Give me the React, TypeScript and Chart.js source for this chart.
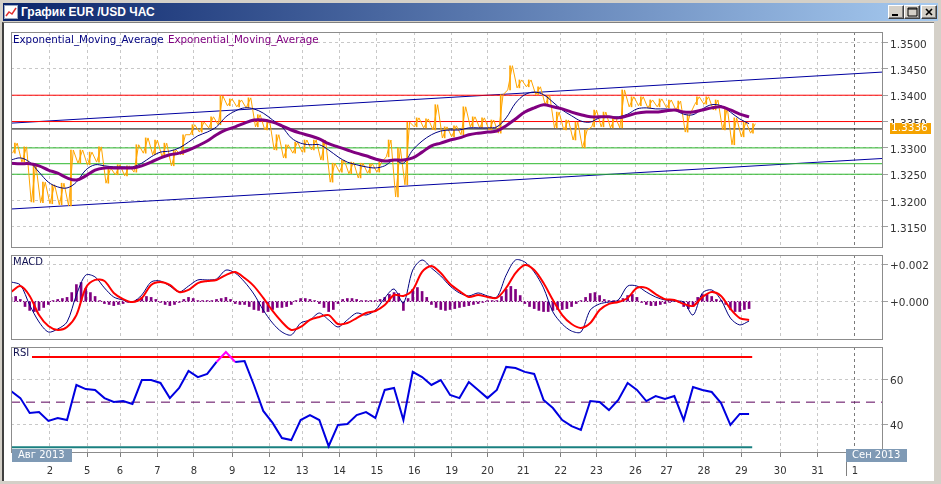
import React, { useEffect, useRef } from 'react';
import { Chart, registerables } from 'chart.js';

Chart.register(...registerables);
Chart.defaults.font.family = '"DejaVu Sans", sans-serif';
Chart.defaults.font.size = 10;

// ---------------- data ----------------
const STEP = 6; // hourly bars per sample of price / lines / RSI
const HIST_STEP = 3; // hourly bars per histogram sample
const X_MAX = 560; // hourly bars visible on the chart
const LAST_BAR = 476; // last bar with data

const dayTickBars = [25, 49, 70, 94, 117.5, 142, 166, 187, 211, 235, 259, 283, 306, 329, 353, 376, 401, 421, 445, 469, 494, 518, 542];
const dayTickLabels = ['2', '5', '6', '7', '8', '9', '12', '13', '14', '15', '16', '19', '20', '21', '22', '23', '26', '27', '28', '29', '30', '31', '1'];
const monthStartBar = 542;
const monthLabels = ['Авг 2013', 'Сен 2013'];

const titleText = 'График EUR /USD ЧАС';
const emaLabels = ['Exponential_Moving_Average', 'Exponential_Moving_Average'];

const priceTicks = [1.315, 1.32, 1.325, 1.33, 1.335, 1.34, 1.345, 1.35];
const macdTicks = [0, 0.002];
const rsiTicks = [40, 60];

const priceHigh = [
  1.3309, 1.3302, 1.3268, 1.3235, 1.3230, 1.3233, 1.3296, 1.3296, 1.3292, 1.3302,
  1.3262, 1.3268, 1.3266, 1.3306, 1.3319, 1.3315, 1.3309, 1.3296, 1.3325, 1.3344,
  1.3349, 1.3359, 1.3399, 1.3393, 1.3391, 1.3395, 1.3363, 1.3353, 1.3325, 1.3306,
  1.3311, 1.3315, 1.3315, 1.3315, 1.3271, 1.3277, 1.3273, 1.3271, 1.3270, 1.3273,
  1.3315, 1.3300, 1.3349, 1.3357, 1.3355, 1.3382, 1.3340, 1.3342, 1.3378, 1.3359,
  1.3357, 1.3353, 1.3401, 1.3456, 1.3429, 1.3429, 1.3416, 1.3399, 1.3368, 1.3353,
  1.3349, 1.3334, 1.3372, 1.3368, 1.3359, 1.3410, 1.3397, 1.3397, 1.3391, 1.3393,
  1.3391, 1.3389, 1.3363, 1.3397, 1.3397, 1.3391, 1.3376, 1.3357, 1.3349, 1.3346,
];
const priceLow = [
  1.3290, 1.3273, 1.3197, 1.3196, 1.3194, 1.3192, 1.3190, 1.3271, 1.3268, 1.3273,
  1.3233, 1.3249, 1.3247, 1.3254, 1.3290, 1.3287, 1.3283, 1.3266, 1.3287, 1.3325,
  1.3330, 1.3338, 1.3344, 1.3380, 1.3378, 1.3376, 1.3340, 1.3334, 1.3296, 1.3281,
  1.3290, 1.3292, 1.3296, 1.3277, 1.3235, 1.3254, 1.3251, 1.3243, 1.3252, 1.3254,
  1.3283, 1.3207, 1.3230, 1.3340, 1.3338, 1.3334, 1.3319, 1.3321, 1.3325, 1.3340,
  1.3338, 1.3334, 1.3328, 1.3410, 1.3414, 1.3416, 1.3401, 1.3383, 1.3338, 1.3334,
  1.3315, 1.3300, 1.3340, 1.3340, 1.3338, 1.3338, 1.3378, 1.3380, 1.3376, 1.3378,
  1.3376, 1.3372, 1.3330, 1.3382, 1.3383, 1.3372, 1.3334, 1.3306, 1.3321, 1.3328,
];
const emaFast = [
  1.3277, 1.3281, 1.3273, 1.3254, 1.3235, 1.3226, 1.3224, 1.3235, 1.3258, 1.3268,
  1.3266, 1.3264, 1.3264, 1.3264, 1.3271, 1.3283, 1.3292, 1.3294, 1.3300, 1.3311,
  1.3323, 1.3330, 1.3340, 1.3359, 1.3370, 1.3376, 1.3374, 1.3366, 1.3353, 1.3340,
  1.3319, 1.3309, 1.3306, 1.3306, 1.3296, 1.3283, 1.3273, 1.3268, 1.3264, 1.3262,
  1.3266, 1.3277, 1.3271, 1.3296, 1.3313, 1.3325, 1.3332, 1.3334, 1.3334, 1.3338,
  1.3338, 1.3338, 1.3340, 1.3357, 1.3385, 1.3401, 1.3406, 1.3401, 1.3387, 1.3372,
  1.3361, 1.3351, 1.3349, 1.3357, 1.3359, 1.3359, 1.3364, 1.3374, 1.3376, 1.3374,
  1.3374, 1.3372, 1.3364, 1.3363, 1.3374, 1.3382, 1.3380, 1.3368, 1.3355, 1.3346,
];
const emaSlow = [
  1.3271, 1.3270, 1.3270, 1.3266, 1.3258, 1.3252, 1.3243, 1.3239, 1.3247, 1.3258,
  1.3262, 1.3262, 1.3262, 1.3262, 1.3266, 1.3273, 1.3281, 1.3287, 1.3290, 1.3296,
  1.3304, 1.3313, 1.3325, 1.3334, 1.3340, 1.3347, 1.3353, 1.3353, 1.3349, 1.3342,
  1.3334, 1.3328, 1.3323, 1.3317, 1.3308, 1.3302, 1.3296, 1.3290, 1.3285, 1.3279,
  1.3275, 1.3277, 1.3277, 1.3281, 1.3292, 1.3304, 1.3309, 1.3315, 1.3319, 1.3325,
  1.3328, 1.3330, 1.3332, 1.3342, 1.3355, 1.3368, 1.3376, 1.3382, 1.3378, 1.3374,
  1.3368, 1.3363, 1.3359, 1.3359, 1.3359, 1.3357, 1.3361, 1.3366, 1.3368, 1.3368,
  1.3370, 1.3372, 1.3368, 1.3368, 1.3372, 1.3376, 1.3378, 1.3372, 1.3364, 1.3359,
];
const trendUpper = [1.3347, 1.3444]; // at bar 0 and bar X_MAX
const trendLower = [1.3184, 1.3280];
const resistanceLevels = [1.34, 1.335];
const supportLevels = [1.33, 1.327, 1.325];
const currentPrice = 1.3336;

const macdMain = [
  0.00105, 0.00089, -0.00019, -0.0011, -0.00164, -0.00148, -0.0011, 0.00035, 0.00142, 0.00132,
  0.00073, 0.00024, 0.00008, -0.00003, 0.00035, 0.00105, 0.0011, 0.00083, 0.00051, 0.00083,
  0.00116, 0.00116, 0.00121, 0.00169, 0.00153, 0.00105, 0.0004, -0.00046, -0.00116, -0.00164,
  -0.0018, -0.00116, -0.00099, -0.00062, -0.00099, -0.00137, -0.00099, -0.00062, -0.00073, -0.00046,
  0.00019, 0.00067, -0.00008, 0.00169, 0.00223, 0.0018, 0.00137, 0.00083, 0.00046, 0.0003,
  0.00046, 0.0003, 0.00024, 0.00142, 0.00223, 0.00212, 0.00159, 0.00073, -0.00056, -0.00121,
  -0.00159, -0.00164, -0.00046, -0.00013, -0.00003, 0.00008, 0.00083, 0.00083, 0.00051, 0.00024,
  0.00008, 0.00003, -0.00003, -0.00073, 0.00046, 0.00062, 0.00008, -0.00089, -0.00126, -0.00105,
];
const macdSignal = [
  0.00051, 0.00083, 0.0003, -0.00073, -0.00132, -0.00153, -0.00137, -0.00073, 0.00073, 0.00116,
  0.0011, 0.00046, 0.00013, -0.00003, 0.00019, 0.00089, 0.00105, 0.00089, 0.00051, 0.00062,
  0.00099, 0.0011, 0.00116, 0.00142, 0.00159, 0.00126, 0.00083, 0.00019, -0.00051, -0.0011,
  -0.00153, -0.00137, -0.00099, -0.00083, -0.00073, -0.00121, -0.00116, -0.00089, -0.00062, -0.00051,
  -0.00019, 0.00035, 0.0003, 0.00062, 0.00159, 0.00191, 0.00153, 0.00094, 0.00056, 0.00024,
  0.00035, 0.00024, 0.00019, 0.00073, 0.00153, 0.00196, 0.00169, 0.00099, 0.00008, -0.00073,
  -0.00121, -0.00142, -0.00116, -0.00046, -0.00013, -0.00003, 0.00019, 0.00073, 0.00073, 0.0004,
  0.00013, 0.00008, -0.00013, -0.00024, 0.00024, 0.00051, 0.0003, -0.0004, -0.00089, -0.00099,
];
const macdHist = [
  0.00022, 0.00027, 0.00011, -0.00027, -0.00048, -0.00054, -0.00048, -0.00032, -0.00016, 0.00005,
  0.00011, 0.00016, 0.00022, 0.00048, 0.00091, 0.00102, 0.0007, 0.00048, 0.00027, 0.00005,
  -0.00011, -0.00016, -0.00022, -0.00016, -0.00011, -0.00005, 0, 0.00011, 0.00022, 0.00027,
  0.00022, 0.00011, -0.00005, -0.00016, -0.00022, -0.00016, -0.00005, 0.00011, 0.00022, 0.00016,
  0.00005, 0.00005, 0.00005, 0.00005, 0.00011, 0.00016, 0.00022, 0.00011, -0.00011, -0.00016,
  -0.00016, -0.00027, -0.00043, -0.00048, -0.00059, -0.00054, -0.00043, -0.00032, -0.00032, -0.00027,
  -0.00016, 0.00005, 0.00016, 0.00016, 0.00011, 0.00005, -0.00011, -0.00032, -0.00054, -0.00043,
  -0.00011, 0.00011, 0.00016, 0.00016, 0.00011, 0.00005, 0.00005, 0.00005, 0.00005, 0.00011,
  0.00022, 0.00038, 0.00048, 0.00043, -0.00048, 0.00016, 0.00065, 0.00075, 0.00054, 0.00022,
  -0.00016, -0.00032, -0.00043, -0.00048, -0.00043, -0.00038, -0.00032, -0.00027, -0.00022, -0.00016,
  -0.00011, -0.00005, 0.00005, 0.00005, 0.00005, 0.00027, 0.00065, 0.00081, 0.00065, 0.00032,
  -0.00011, -0.00027, -0.00038, -0.00048, -0.00054, -0.00054, -0.00048, -0.00043, -0.00043, -0.00038,
  -0.00027, -0.00011, 0.00005, 0.00022, 0.00043, 0.00048, 0.00032, 0.00011, 0.00005, 0.00005,
  0.00005, 0.00016, 0.00032, 0.00038, 0.00022, -0.00005, -0.00016, -0.00022, -0.00022, -0.00016,
  -0.00011, -0.00005, 0.00005, -0.00005, -0.00027, -0.00038, -0.00027, 0.00022, 0.00038, 0.00038,
  0.00027, 0.00011, 0.00005, -0.00016, -0.00043, -0.00054, -0.00054, -0.00043, -0.00038,
];

const rsiValues = [
  54.9, 51.8, 45.2, 45.6, 41.7, 43.0, 42.1, 57.6, 55.8, 55.4,
  51.8, 50.1, 50.5, 49.2, 59.8, 59.8, 58.5, 51.8, 56.3, 63.8,
  61.1, 62.5, 67.8, 72.2, 67.8, 68.2, 57.6, 46.1, 40.8, 34.1,
  33.2, 42.1, 44.3, 42.1, 30.5, 39.9, 40.3, 44.3, 45.6, 43.0,
  55.4, 56.3, 42.1, 63.4, 61.1, 57.6, 59.8, 53.2, 51.8, 58.9,
  55.4, 51.8, 55.4, 65.6, 65.1, 63.4, 62.5, 51.0, 47.4, 42.1,
  39.4, 37.7, 50.5, 50.1, 46.5, 51.0, 58.5, 55.4, 50.5, 52.7,
  51.4, 52.7, 42.1, 56.7, 55.4, 54.5, 49.6, 39.9, 44.8, 44.8,
];
const rsiOverbought = 70;
const rsiMiddle = 50;
const rsiOversold = 30;

// ---------------- helpers ----------------
type Pt = { x: number; y: any };
const series = (vals: number[], step: number): Pt[] => vals.map((v, i) => ({ x: i * step, y: v }));
const flat = (v: number, from: number, to: number): Pt[] => [
  { x: from, y: v },
  { x: to, y: v },
];
const pricePath: Pt[] = [];
priceHigh.forEach((h, i) => {
  pricePath.push({ x: i * STEP + 1, y: priceLow[i] }, { x: i * STEP + 4, y: h });
});
const priceRanges: Pt[] = priceHigh.map((h, i) => ({ x: i * STEP + 2.5, y: [priceLow[i], h] }));

const GRID = '#C8C8C8';
const gridColor = (c: any) => (c.tick && c.tick.value === monthStartBar ? '#7A7A7A' : GRID);

function xScale(showLabels: boolean): any {
  return {
    type: 'linear',
    position: 'bottom',
    min: 0,
    max: X_MAX,
    offset: false,
    afterBuildTicks: (s: any) => {
      s.ticks = dayTickBars.map((v) => ({ value: v }));
    },
    afterFit: (s: any) => {
      s.height = showLabels ? 25 : 0;
      s.paddingLeft = 0;
      s.paddingRight = 0;
      s.paddingTop = 0;
      s.paddingBottom = 0;
    },
    ticks: {
      display: showLabels,
      autoSkip: false,
      maxRotation: 0,
      minRotation: 0,
      padding: 8,
      color: '#333',
      font: { size: 10 },
      callback: (v: number) => {
        const k = dayTickBars.indexOf(v);
        return k >= 0 ? dayTickLabels[k] : '';
      },
    },
    grid: {
      offset: false,
      color: gridColor,
      drawTicks: showLabels,
      tickLength: 4,
      tickColor: '#808080',
      tickBorderDash: [],
    },
    border: { display: false, dash: [3, 3] },
  };
}

function yScale(min: number, max: number, ticks: number[], fmt: (v: number) => string, labelOffset = 0): any {
  return {
    type: 'linear',
    position: 'right',
    min,
    max,
    afterBuildTicks: (s: any) => {
      s.ticks = ticks.map((v) => ({ value: v }));
    },
    afterFit: (s: any) => {
      s.width = 50;
      s.paddingLeft = 0;
      s.paddingRight = 0;
      s.paddingTop = 0;
      s.paddingBottom = 0;
    },
    ticks: { padding: 2, labelOffset, color: '#333', font: { size: 10.5 }, callback: (v: number) => fmt(v) },
    grid: { offset: false, color: GRID, drawTicks: true, tickLength: 5, tickColor: '#A0A0A0', tickBorderDash: [] },
    border: { display: false, dash: [3, 3] },
  };
}

const boxPlugin = {
  id: 'panelBox',
  afterDatasetsDraw(chart: any) {
    const { ctx, chartArea: a } = chart;
    ctx.save();
    ctx.strokeStyle = '#8C8C8C';
    ctx.lineWidth = 1;
    ctx.setLineDash([]);
    ctx.strokeRect(Math.round(a.left) + 0.5, Math.round(a.top) + 0.5, Math.round(a.right - a.left) - 1, Math.round(a.bottom - a.top) - 1);
    ctx.restore();
  },
};

const line = (data: Pt[], color: string, width: number, extra: any = {}) => ({
  type: 'line',
  data,
  borderColor: color,
  borderWidth: width,
  pointRadius: 0,
  fill: false,
  tension: 0,
  ...extra,
});

const baseOptions = (padding: any, scales: any) => ({
  responsive: false,
  animation: false,
  events: [],
  layout: { padding },
  plugins: { legend: { display: false }, tooltip: { enabled: false } },
  scales,
});

export default function App() {
  const priceRef = useRef<HTMLCanvasElement>(null);
  const macdRef = useRef<HTMLCanvasElement>(null);
  const rsiRef = useRef<HTMLCanvasElement>(null);

  useEffect(() => {
    const charts: Chart[] = [];

    // ---- price panel ----
    const priceText = {
      id: 'priceText',
      afterDraw(chart: any) {
        const ctx = chart.ctx;
        ctx.save();
        ctx.font = '10.3px "DejaVu Sans"';
        ctx.textBaseline = 'middle';
        ctx.fillStyle = '#000080';
        ctx.fillText(emaLabels[0], 13, 40);
        const w = ctx.measureText(emaLabels[0] + ' ').width;
        ctx.fillStyle = '#800080';
        ctx.fillText(emaLabels[1], 13 + w + 1, 40);
        ctx.font = '10.5px "DejaVu Sans"';
        const y = Math.round(chart.scales.y.getPixelForValue(currentPrice));
        ctx.fillStyle = '#F5A300';
        ctx.fillRect(890, y - 6, 41, 11);
        ctx.fillStyle = '#FFFFFF';
        ctx.fillText(currentPrice.toFixed(4), 891, y - 0.5);
        ctx.restore();
      },
    };
    charts.push(
      new Chart(priceRef.current as HTMLCanvasElement, {
        type: 'line',
        data: {
          datasets: [
            line(series(emaSlow, STEP), '#800080', 3, { tension: 0.35 }),
            line(series(emaFast, STEP), '#000080', 1, { tension: 0.35 }),
            line(pricePath, '#FFA500', 1),
            { type: 'bar', data: priceRanges, backgroundColor: '#FFA500', barThickness: 1 },
            line(flat(currentPrice, 0, X_MAX), '#000000', 1),
            ...resistanceLevels.map((v) => line(flat(v, 0, X_MAX), '#FF0000', 1)),
            ...supportLevels.map((v) => line(flat(v, 0, X_MAX), '#2DB82D', 1)),
            line([{ x: 0, y: trendUpper[0] }, { x: X_MAX, y: trendUpper[1] }], '#0000A0', 1),
            line([{ x: 0, y: trendLower[0] }, { x: X_MAX, y: trendLower[1] }], '#0000A0', 1),
          ] as any,
        },
        options: baseOptions(
          { left: 11, right: 8, top: 32, bottom: 2 },
          { x: xScale(false), y: yScale(1.311, 1.352, priceTicks, (v) => v.toFixed(4), 2.5) }
        ) as any,
        plugins: [boxPlugin, priceText],
      })
    );

    // ---- MACD panel ----
    const macdText = {
      id: 'macdText',
      afterDraw(chart: any) {
        const ctx = chart.ctx;
        ctx.save();
        ctx.font = '10px "DejaVu Sans"';
        ctx.textBaseline = 'middle';
        ctx.fillStyle = '#101050';
        ctx.fillText('MACD', 13, 12.5);
        ctx.restore();
      },
    };
    charts.push(
      new Chart(macdRef.current as HTMLCanvasElement, {
        type: 'line',
        data: {
          datasets: [
            line(series(macdSignal, STEP), '#FF0000', 2, { tension: 0.3 }),
            line(series(macdMain, STEP), '#000080', 1, { tension: 0.3 }),
            line(flat(0, 0, LAST_BAR), '#800080', 1, { borderDash: [1, 2] }),
            {
              type: 'bar',
              data: series(macdHist, HIST_STEP),
              backgroundColor: '#800080',
              barThickness: 2,
            },
          ] as any,
        },
        options: baseOptions(
          { left: 11, right: 8, top: 5, bottom: 2 },
          {
            x: xScale(false),
            y: yScale(-0.00207, 0.0025, macdTicks, (v) => (v >= 0 ? '+' : '') + v.toFixed(3), 1.5),
          }
        ) as any,
        plugins: [boxPlugin, macdText],
      })
    );

    // ---- RSI panel ----
    const rsiText = {
      id: 'rsiText',
      afterDraw(chart: any) {
        const ctx = chart.ctx;
        ctx.save();
        ctx.fillStyle = '#FFFFFF';
        ctx.fillRect(12, 6, 20, 11);
        ctx.font = '10px "DejaVu Sans"';
        ctx.textBaseline = 'middle';
        ctx.fillStyle = '#101050';
        ctx.fillText('RSI', 13, 11.5);
        // month labels
        const boxes = [
          { x: 12, w: 60, t: monthLabels[0] },
          { x: 846, w: 61, t: monthLabels[1] },
        ];
        boxes.forEach((b) => {
          ctx.fillStyle = '#7F9AB5';
          ctx.fillRect(b.x, 107, b.w, 13);
          ctx.fillStyle = '#FFFFFF';
          ctx.fillText(b.t, b.x + 6, 113.5);
        });
        ctx.strokeStyle = '#808080';
        ctx.lineWidth = 1;
        ctx.beginPath();
        ctx.moveTo(846.5, 120);
        ctx.lineTo(846.5, 134);
        ctx.stroke();
        ctx.restore();
      },
    };
    charts.push(
      new Chart(rsiRef.current as HTMLCanvasElement, {
        type: 'line',
        data: {
          datasets: [
            line(series(rsiValues, STEP), '#0000E0', 2, {
              segment: {
                borderColor: (c: any) => (c.p0.parsed.y > rsiOverbought || c.p1.parsed.y > rsiOverbought ? '#FF00FF' : undefined),
              },
            }),
            line(flat(rsiOverbought, 0, LAST_BAR), '#FF0000', 2),
            line(flat(rsiOversold, 0, LAST_BAR), '#1A8080', 2),
            line(flat(rsiMiddle, 0, X_MAX), '#5A005A', 1, { borderDash: [9, 6] }),
          ] as any,
        },
        options: baseOptions(
          { left: 11, right: 8, top: 5, bottom: 6 },
          { x: xScale(true), y: yScale(27.48, 74.43, rsiTicks, (v) => String(v), 1.5) }
        ) as any,
        plugins: [boxPlugin, rsiText],
      })
    );

    return () => charts.forEach((c) => c.destroy());
  }, []);

  const btn = (left: number, glyph: React.ReactNode) => (
    <div
      style={{
        position: 'absolute',
        left,
        top: 5,
        width: 16,
        height: 14,
        boxSizing: 'border-box',
        background: '#D4D0C8',
        borderTop: '1px solid #FFFFFF',
        borderLeft: '1px solid #FFFFFF',
        borderRight: '1px solid #404040',
        borderBottom: '1px solid #404040',
        boxShadow: 'inset -1px -1px 0 #808080',
      }}
    >
      <svg width={14} height={12} style={{ position: 'absolute', left: 0, top: 0 }}>
        {glyph}
      </svg>
    </div>
  );

  return (
    <div
      style={{
        position: 'fixed',
        left: 0,
        top: 0,
        width: 941,
        height: 484,
        background: '#D4D0C8',
        overflow: 'hidden',
      }}
    >
      <div
        style={{
          position: 'absolute',
          left: 3,
          top: 3,
          width: 935,
          height: 18,
          background: 'linear-gradient(to right, #0A246A, #A6CAF0)',
        }}
      />
      <svg width={14} height={14} style={{ position: 'absolute', left: 4, top: 5 }}>
        <rect x={0.5} y={0.5} width={13} height={13} fill="#FFFFFF" stroke="#9AA8C0" />
        <polyline points="2,11 5,7 8,9 12,3" fill="none" stroke="#E03030" strokeWidth={1.5} />
      </svg>
      <div
        style={{
          position: 'absolute',
          left: 21,
          top: 3,
          height: 18,
          lineHeight: '18px',
          color: '#FFFFFF',
          fontFamily: '"Liberation Sans", Arial, sans-serif',
          fontWeight: 'bold',
          fontSize: 12,
          whiteSpace: 'pre',
        }}
      >
        {titleText}
      </div>
      {btn(888, <rect x={3} y={8} width={6} height={2} fill="#000" />)}
      {btn(904, <path d="M3 2 h9 v8 h-9 z M3 3 h9" fill="none" stroke="#000" strokeWidth={1} />)}
      {btn(921, <path d="M4 3 L10 9 M10 3 L4 9" stroke="#000" strokeWidth={1.6} />)}
      <div
        style={{
          position: 'absolute',
          left: 2,
          top: 22,
          width: 932,
          height: 459,
          background: '#FFFFFF',
          boxSizing: 'border-box',
          borderLeft: '2px solid #404040',
          borderTop: '1px solid #808080',
        }}
      />
      <canvas ref={priceRef} width={941} height={250} style={{ position: 'absolute', left: 0, top: 0 }} />
      <canvas ref={macdRef} width={941} height={92} style={{ position: 'absolute', left: 0, top: 250 }} />
      <canvas ref={rsiRef} width={941} height={142} style={{ position: 'absolute', left: 0, top: 342 }} />
    </div>
  );
}
